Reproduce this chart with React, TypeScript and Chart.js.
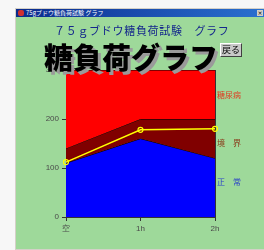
import React, { useEffect, useRef } from "react";
import { Chart, registerables } from "chart.js";

Chart.register(...registerables);

const categories = ["空", "1h", "2h"];
const normalUpper = [110, 160, 120];
const borderUpper = [140, 200, 200];
const diabetesUpper = [300, 300, 300];
const patient = [112, 178, 180];
const yTicks = [0, 100, 200, 300];

export default function App() {
  const ref = useRef<HTMLCanvasElement | null>(null);

  useEffect(() => {
    if (!ref.current) return;
    const tickFont = { family: "Liberation Sans", size: 8 };
    const chart = new Chart(ref.current, {
      type: "line",
      data: {
        labels: categories,
        datasets: [
          {
            label: "patient",
            data: patient,
            borderColor: "#ffff00",
            borderWidth: 1.5,
            pointRadius: 2.5,
            pointBorderColor: "#ffff00",
            pointBackgroundColor: "rgba(0,0,0,0)",
            pointBorderWidth: 1.2,
            fill: false,
            order: 0,
          },
          {
            label: "正常",
            data: normalUpper,
            borderColor: "#000000",
            borderWidth: 1,
            backgroundColor: "#0000ff",
            pointRadius: 0,
            fill: "origin",
            order: 3,
          },
          {
            label: "境界",
            data: borderUpper,
            borderColor: "#000000",
            borderWidth: 1,
            backgroundColor: "#800000",
            pointRadius: 0,
            fill: "-1",
            order: 2,
          },
          {
            label: "糖尿病",
            data: diabetesUpper,
            borderColor: "#000000",
            borderWidth: 1,
            backgroundColor: "#ff0000",
            pointRadius: 0,
            fill: "-1",
            order: 1,
          },
        ],
      },
      options: {
        animation: false,
        responsive: false,
        maintainAspectRatio: false,
        layout: { padding: { left: 0, right: 49, top: 53, bottom: 0 } },
        plugins: {
          legend: { display: false },
          tooltip: { enabled: false },
        },
        scales: {
          x: {
            offset: false,
            grid: {
              drawOnChartArea: false,
              tickLength: 4,
              color: "#333333",
            },
            border: { color: "#333333", width: 1 },
            ticks: { color: "#4a4a4a", font: tickFont, padding: 3 },
            afterFit: (s: any) => {
              s.height = 32;
            },
          },
          y: {
            min: 0,
            max: 300,
            afterBuildTicks: (s: any) => {
              s.ticks = yTicks.map((v) => ({ value: v }));
            },
            grid: {
              drawOnChartArea: false,
              tickLength: 4,
              color: "#333333",
            },
            border: { color: "#333333", width: 1 },
            ticks: {
              color: "#4a4a4a",
              font: tickFont,
              padding: 3,
              autoSkip: false,
              callback: (v: any) => String(v),
            },
            afterFit: (s: any) => {
              s.width = 50;
            },
          },
          y2: {
            position: "right",
            min: 0,
            max: 300,
            grid: { drawOnChartArea: false, drawTicks: false },
            border: { color: "#333333", width: 1 },
            ticks: { display: false },
            afterFit: (s: any) => {
              s.width = 0;
            },
          },
        },
      },
    });
    return () => chart.destroy();
  }, []);

  const jp = '"Noto Sans CJK JP", sans-serif';

  return (
    <div style={{ position: "absolute", left: 0, top: 0, width: 264, height: 250, background: "#f7f7f7", overflow: "hidden" }}>
      <div style={{ position: "absolute", left: 15, top: 8, width: 249, height: 242, background: "#d4d0c8" }} />
      <div
        style={{
          position: "absolute",
          left: 16,
          top: 9,
          width: 248,
          height: 8,
          background: "linear-gradient(to right, #0a2a8c, #2a70d0)",
        }}
      />
      <div style={{ position: "absolute", left: 18, top: 10, width: 6, height: 6, background: "#d03030", borderRadius: 2 }} />
      <div
        style={{
          position: "absolute",
          left: 26,
          top: 9,
          fontFamily: jp,
          fontSize: 6,
          lineHeight: "8px",
          color: "#ffffff",
          whiteSpace: "nowrap",
        }}
      >
        75gブドウ糖負荷試験 グラフ
      </div>
      <div
        style={{
          position: "absolute",
          left: 257,
          top: 10,
          width: 6,
          height: 6,
          background: "#d4d0c8",
          fontSize: 6,
          lineHeight: "6px",
          textAlign: "center",
          fontFamily: "DejaVu Sans",
          color: "#000",
        }}
      >
        ×
      </div>
      <div style={{ position: "absolute", left: 16, top: 17, width: 248, height: 232, background: "#9ed99a" }} />
      <canvas
        ref={ref}
        width={248}
        height={232}
        style={{ position: "absolute", left: 16, top: 17, width: 248, height: 232 }}
      />
      <div
        style={{
          position: "absolute",
          left: 54,
          top: 23,
          fontFamily: jp,
          fontSize: 11,
          lineHeight: "14px",
          letterSpacing: "0.7px",
          color: "#14268c",
          whiteSpace: "nowrap",
        }}
      >
        ７５ｇブドウ糖負荷試験　グラフ
      </div>
      <div
        style={{
          position: "absolute",
          left: 44,
          top: 40,
          fontFamily: jp,
          fontWeight: 900,
          fontSize: 29,
          lineHeight: "32px",
          color: "#000000",
          textShadow: "3px 3px 0 #9a9a9a",
          whiteSpace: "nowrap",
        }}
      >
        糖負荷グラフ
      </div>
      <div
        style={{
          position: "absolute",
          left: 220,
          top: 43,
          width: 22,
          height: 14,
          boxSizing: "border-box",
          background: "#c8c8c8",
          borderTop: "1px solid #ffffff",
          borderLeft: "1px solid #ffffff",
          borderRight: "1px solid #404040",
          borderBottom: "1px solid #404040",
          fontFamily: jp,
          fontSize: 9,
          lineHeight: "12px",
          textAlign: "center",
          color: "#000",
        }}
      >
        戻る
      </div>
      <div style={{ position: "absolute", left: 217, top: 90, fontFamily: jp, fontSize: 8, lineHeight: "10px", color: "#e03a20", whiteSpace: "nowrap" }}>
        糖尿病
      </div>
      <div style={{ position: "absolute", left: 217, top: 138, fontFamily: jp, fontSize: 8, lineHeight: "10px", color: "#8a3a1a", whiteSpace: "nowrap" }}>
        境　界
      </div>
      <div style={{ position: "absolute", left: 217, top: 177, fontFamily: jp, fontSize: 8, lineHeight: "10px", color: "#2a40c8", whiteSpace: "nowrap" }}>
        正　常
      </div>
    </div>
  );
}
